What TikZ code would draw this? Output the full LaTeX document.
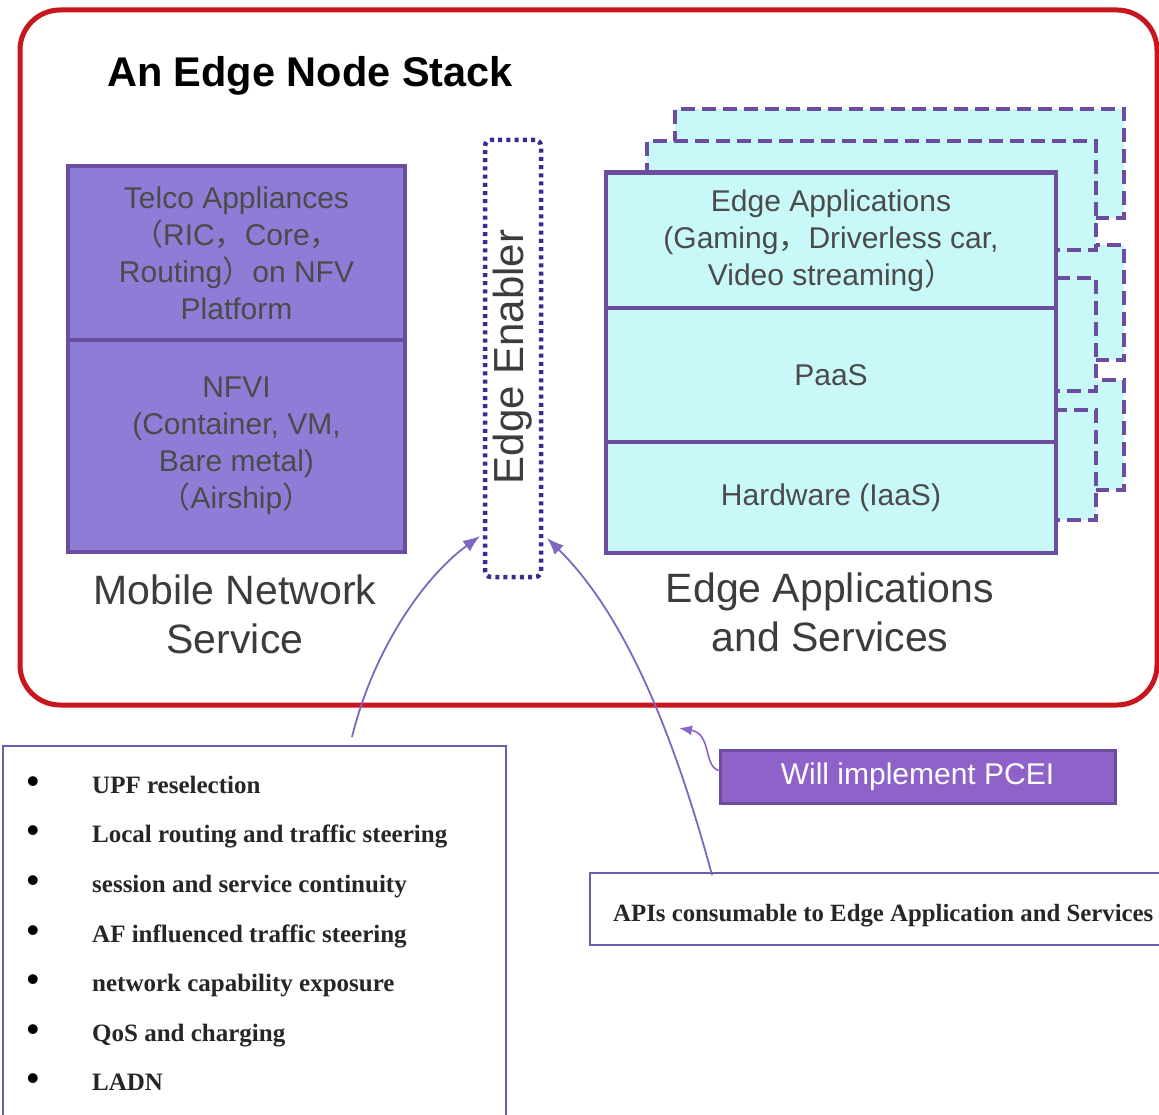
\documentclass[tikz,border=0pt]{standalone}
\usepackage{fontspec}
\setmainfont{Liberation Sans}
\newfontfamily\serifb{Liberation Serif}
\newfontfamily\cjk{Noto Sans CJK SC}
\usetikzlibrary{arrows.meta}
\newcommand{\fw}[1]{{\cjk #1}}
\definecolor{redline}{RGB}{200,22,30}
\definecolor{pfill}{RGB}{143,124,214}
\definecolor{pdark}{RGB}{108,76,158}
\definecolor{cyanfill}{RGB}{200,248,248}
\definecolor{boxtext}{RGB}{75,75,75}
\definecolor{labeltext}{RGB}{60,60,60}
\definecolor{dotblue}{RGB}{62,40,150}
\definecolor{arrowp}{RGB}{128,102,190}
\definecolor{pceifill}{RGB}{143,98,202}
\definecolor{boxline}{RGB}{112,92,172}
\tikzset{
  frame/.style={draw=redline, line width=5pt, rounded corners=40pt, inner sep=0pt},
  pbox/.style={draw=pdark, fill=pfill, line width=4pt, inner sep=0pt, text=boxtext, align=center, font=\fontsize{30}{37}\selectfont},
  clayer/.style={draw=pdark, fill=cyanfill, line width=4.5pt, inner sep=0pt, minimum width=450pt, text=boxtext, align=center, font=\fontsize{30}{37}\selectfont},
  dlayer/.style={draw=pdark, fill=cyanfill, line width=4.5pt, dash pattern=on 14pt off 7pt, inner sep=0pt, minimum width=449pt},
  enablerbox/.style={draw=dotblue, line width=4.5pt, dash pattern=on 4pt off 4.2pt, rounded corners=6pt, inner sep=0pt},
  biglabel/.style={text=labeltext, align=center, font=\fontsize{41}{49}\selectfont},
  listbox/.style={draw=boxline, line width=1.6pt, inner sep=0pt},
  listtext/.style={anchor=base west, inner sep=0pt, text=black!85, font=\serifb\bfseries\fontsize{25}{28}\selectfont},
  bul/.style={anchor=base, inner sep=0pt, text=black, font=\serifb\bfseries\fontsize{36}{38}\selectfont},
  conn/.style={draw=arrowp, line width=1.8pt, -{Latex[length=17pt,width=13pt]}},
  callout/.style={draw=pceifill, line width=1.6pt, -{Latex[length=13pt,width=10pt]}},
}
\begin{document}
\begin{tikzpicture}[x=1pt,y=-1pt]
\clip (0,0) rectangle (1159,1115);
\fill[white] (0,0) rectangle (1159,1115);

% outer frame
\node[frame, minimum width=1137pt, minimum height=695pt] (frame) at (588.5,357.5) {};
\node[font=\bfseries\fontsize{41.5}{44}\selectfont, text=black, inner sep=0pt] (title) at (310,76) {An Edge Node Stack};

% mobile network stack
\node[pbox, minimum width=337pt, minimum height=174pt] (telco) at (236.5,253)
  {Telco Appliances\\\fw{（}RIC\fw{，}Core\fw{，}\\Routing\fw{）}on NFV\\Platform};
\node[pbox, minimum width=337pt, minimum height=212pt] (nfvi) at (236.5,446)
  {NFVI\\(Container, VM,\\Bare metal)\\\fw{（}Airship\fw{）}};
\node[biglabel] (mns) at (235,614) {Mobile Network\\Service};

% edge enabler
\node[enablerbox, minimum width=56pt, minimum height=437pt] (enabler) at (513,358.5) {};
\node[rotate=90, text=labeltext, font=\fontsize{42}{46}\selectfont, inner sep=0pt] (enablertext) at (513,357) {Edge Enabler};

% back copies (dashed)
\node[dlayer, minimum height=109pt] (b1) at (899.5,163.5) {};
\node[dlayer, minimum height=115pt] (b2) at (899.5,302.5) {};
\node[dlayer, minimum height=110pt] (b3) at (899.5,435) {};
\node[dlayer, minimum height=109pt] (m1) at (871.5,195.5) {};
\node[dlayer, minimum height=113pt] (m2) at (871.5,334.5) {};
\node[dlayer, minimum height=110pt] (m3) at (871.5,465) {};

% front stack
\node[clayer, minimum height=137pt] (apps) at (831,241)
  {Edge Applications\\(Gaming\fw{，}Driverless car,\\Video streaming\fw{）}};
\node[clayer, minimum height=134pt] (paas) at (831,375) {PaaS};
\node[clayer, minimum height=111pt] (hw) at (831,497.5) {Hardware (IaaS)};
\node[biglabel] (eas) at (830,612) {Edge Applications\\and Services};

% list box
\node[listbox, minimum width=503pt, minimum height=400pt] (list) at (254.5,946) {};
\foreach \yy/\tt [count=\i] in {785/UPF reselection, 834/Local routing and traffic steering, 884/session and service continuity, 934/AF influenced traffic steering, 983/network capability exposure, 1033/QoS and charging, 1082/LADN}{
  \node[bul] (bul\i) at (33,\yy+8) {\textbullet};
  \node[listtext] (item\i) at (92,\yy+8) {\tt};
}

% APIs box
\node[listbox, minimum width=590pt, minimum height=72pt] (apis) at (885,909) {};
\node[listtext, anchor=base west, font=\serifb\bfseries\fontsize{24.8}{28}\selectfont] (apistext) at (613,921) {APIs consumable to Edge Application and Services};

% PCEI box
\node[draw=pdark, fill=pceifill, line width=3pt, minimum width=395pt, minimum height=53pt, inner sep=0pt,
      text=white, font=\fontsize{30}{34}\selectfont] (pcei) at (917.5,776.5) {Will implement PCEI};

% connectors
\coordinate (s1) at (352,737);
\coordinate (t1) at (480,536);
\coordinate (s2) at (712,875);
\coordinate (t2) at (547,538);
\coordinate (t3) at (679,728);
\draw[conn] (s1) .. controls (372,655) and (420,580) .. (t1);
\draw[conn] (s2) .. controls (670,720) and (620,610) .. (t2);
\draw[callout] ([yshift=6pt]pcei.west) .. controls (703,765) and (712,734) .. (t3);
\end{tikzpicture}
\end{document}
